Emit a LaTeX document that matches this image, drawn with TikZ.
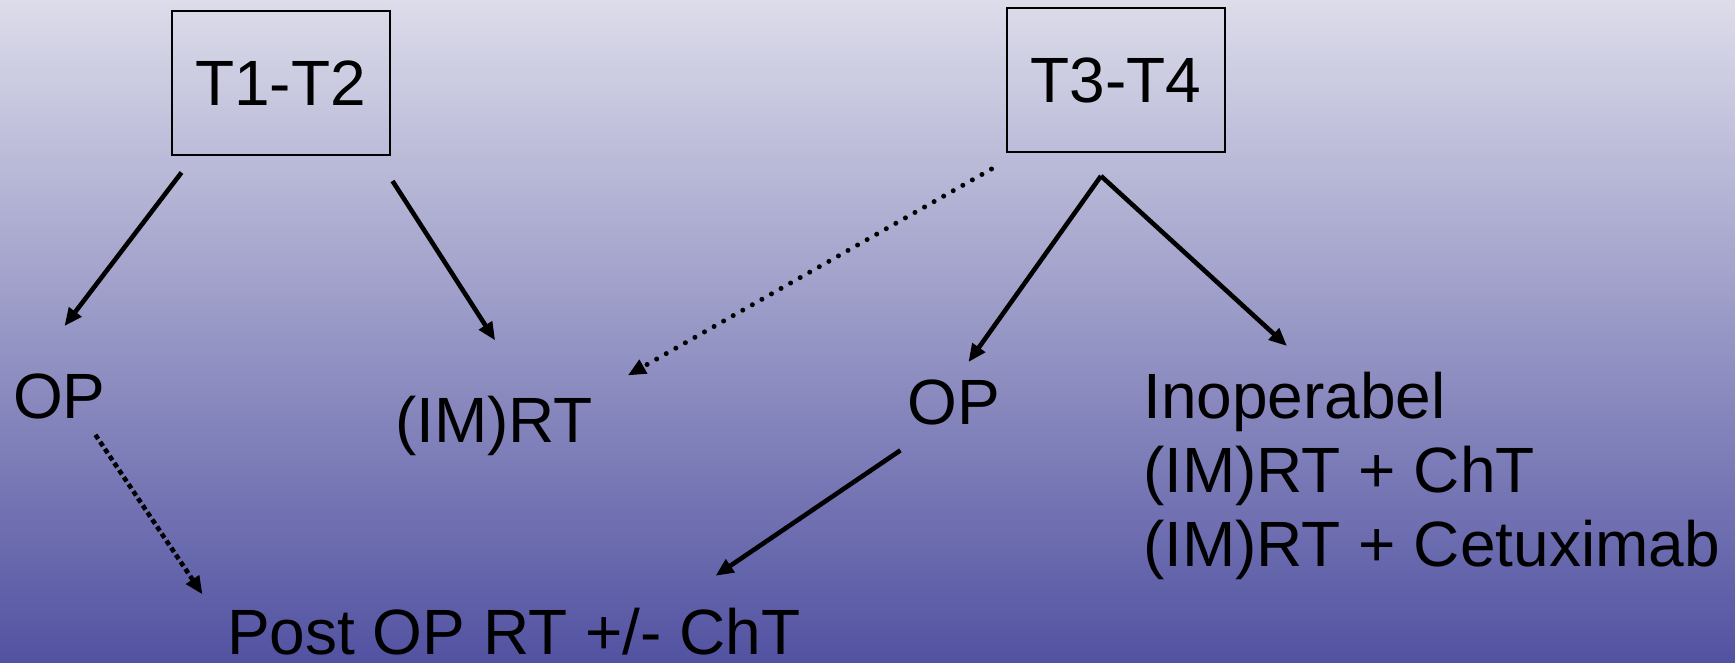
\documentclass[tikz,border=0pt]{standalone}
\usepackage{fontspec}
\setmainfont{Liberation Sans}
\usetikzlibrary{arrows.meta,calc}
\definecolor{bgtop}{RGB}{220,220,234}
\definecolor{bgbot}{RGB}{82,82,162}
\tikzset{
  lbl/.style={inner sep=0pt, font=\fontsize{64}{74}\selectfont, text=black},
  tbox/.style={draw=black, line width=2pt, minimum width=218pt, minimum height=144pt, inner sep=0pt, font=\fontsize{64}{74}\selectfont},
  arr/.style={line width=4.6pt, -{Triangle[length=18pt,width=15pt]}},
  dotarr/.style={line width=5pt, dash pattern=on 0pt off 11pt, line cap=round, -{Triangle[length=18pt,width=15pt]}},
  dasharr/.style={line width=4.6pt, dash pattern=on 5pt off 3.5pt, -{Triangle[length=18pt,width=15pt]}}
}
\begin{document}
\begin{tikzpicture}[x=1pt,y=-1pt]
\shade[top color=bgtop, bottom color=bgbot] (0,0) rectangle (1735,662);
\useasboundingbox (0,0) rectangle (1735,662);
\node[tbox] (t12) at (280.5,83) {T1-T2};
\node[tbox] (t34) at (1116,80) {T3-T4};
\node[lbl, anchor=base west] (op1) at (13,418) {OP};
\node[lbl, anchor=base west] (imrt) at (395,442) {(IM)RT};
\node[lbl, anchor=base west] (op2) at (907,424) {OP};
\node[lbl, anchor=north west, align=left] (ino) at (1143,372) {Inoperabel\\(IM)RT + ChT\\(IM)RT + Cetuximab};
\node[lbl, anchor=base west] (post) at (227,654) {Post OP RT +/- ChT};
\draw[arr] ([shift={(11,16.5)}]t12.south west) -- ([shift={(5,-47)}]op1.north);
\draw[arr] ([shift={(2,25)}]t12.south east) -- ([shift={(1,-55)}]imrt.north);
\draw[dotarr] ([shift={(-14.5,16)}]t34.south west) -- ([shift={(34.5,-20)}]imrt.north east);
\draw[arr] ([shift={(-15,23)}]t34.south) -- ([shift={(15,-17)}]op2.north);
\draw[arr] ([shift={(-15,23)}]t34.south) -- ([shift={(144,-26)}]ino.north west);
\draw[dasharr] ([shift={(36,16)}]op1.south) -- ([shift={(-24.5,-13)}]post.north west);
\draw[arr] ([shift={(-53,25.5)}]op2.south) -- ([shift={(201.7,-31.6)}]post.north);
\end{tikzpicture}
\end{document}
